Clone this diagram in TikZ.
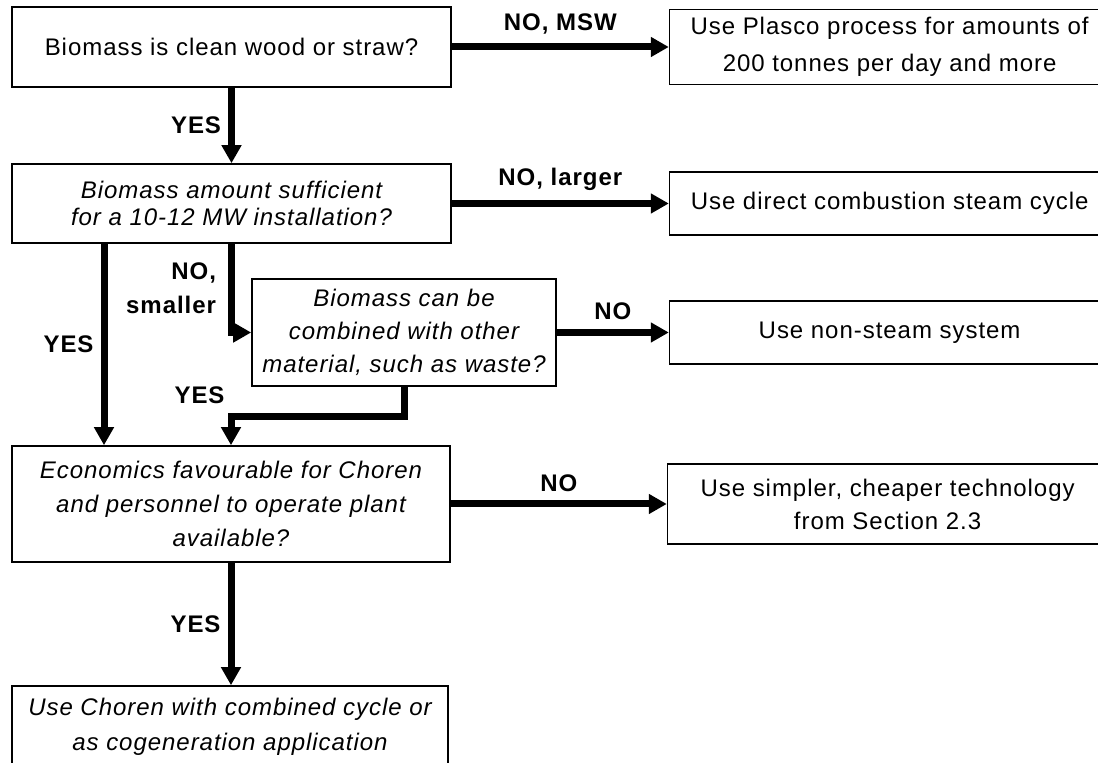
\documentclass[tikz,border=0pt]{standalone}
\usepackage{fontspec}
\setmainfont{Liberation Sans}[LetterSpace=4]
\usetikzlibrary{arrows.meta, positioning}

\begin{document}
\begin{tikzpicture}[
        x=0.5pt, y=-0.5pt,
        question/.style={
            rectangle,
            draw,
            line width=0.8pt,
            minimum width=219.5pt,
            minimum height=40pt,
            inner sep=0pt,
            align=center,
            font=\fontsize{12}{17}\selectfont\itshape
        },
        outcome/.style={
            rectangle,
            draw,
            line width=0.8pt,
            minimum width=220pt,
            inner sep=0pt,
            align=center,
            font=\fontsize{12}{16.5}\selectfont
        },
        arrow/.style={
            -{Triangle[length=9pt, width=9.5pt]},
            line width=3.5pt
        },
        answer/.style={
            font=\fontsize{12}{17}\selectfont\bfseries,
            inner sep=3.5pt
        }
    ]

    \useasboundingbox (0,0) rectangle (1098,763);
    \clip (0,0) rectangle (1098,763);

    % Questions down the left side
    \node (clean) [question, font=\fontsize{12}{17}\selectfont] at (231.5,47) {Biomass is clean wood or straw?};
    \node (amount) [question, minimum height=39.5pt, font=\fontsize{12}{13.5}\selectfont\itshape] at (231.5,203.5) {Biomass amount sufficient\\for a 10-12 MW installation?};
    \node (combine) [question, minimum width=152pt, minimum height=53.5pt, font=\fontsize{12}{16.5}\selectfont\itshape] at (404,332.5) {Biomass can be\\combined with other\\material, such as waste?};
    \node (econ) [question, minimum width=219pt, minimum height=58pt] at (231,504) {Economics favourable for Choren\\and personnel to operate plant\\available?};
    \node (choren) [question, minimum width=218pt, minimum height=41pt, font=\fontsize{12}{17.5}\selectfont\itshape] at (230,727) {Use Choren with combined cycle or\\as cogeneration application};

    % Outcomes on the right
    \node (plasco) [outcome, minimum height=37.5pt, font=\fontsize{12}{18.5}\selectfont, right=108.5pt of clean] {Use Plasco process for amounts of\\200 tonnes per day and more};
    \node (steam) [outcome, minimum height=31.5pt, right=108.5pt of amount] {Use direct combustion steam cycle};
    \node (nonsteam) [outcome, minimum height=31.5pt, right=56pt of combine] {Use non-steam system};
    \node (simpler) [outcome, minimum height=40pt, right=108pt of econ] {Use simpler, cheaper technology\\from Section 2.3};

    \coordinate (lx) at (104,0);

    % NO branches
    \draw[arrow] (clean.east) -- node[answer, above=1pt] {NO, MSW} (clean.east -| plasco.west);
    \draw[arrow] (amount.east) -- node[answer, above=1pt] {NO, larger} (amount.east -| steam.west);
    \draw[arrow] (combine.east) -- node[answer, above=1pt] {NO} (combine.east -| nonsteam.west);
    \draw[arrow] (econ.east) -- node[answer, above=1pt] {NO} (econ.east -| simpler.west);
    \draw[arrow] (amount.south) |- node[answer, left, pos=0.25, align=right, xshift=-2.5pt] {NO,\\smaller} (combine.west);

    % YES branches
    \draw[arrow] (clean) -- node[answer, left] {YES} (amount);
    \draw[arrow] (amount.south -| lx) -- node[answer, left] {YES} (econ.north -| lx);
    \draw[arrow] (combine.south) -- ++(0,30) -| node[answer, pos=0.5, anchor=south east, xshift=2pt, yshift=1.5pt] {YES} (econ.north);
    \draw[arrow] (econ.south) -- node[answer, left] {YES} (econ.south |- choren.north);

\end{tikzpicture}
\end{document}
